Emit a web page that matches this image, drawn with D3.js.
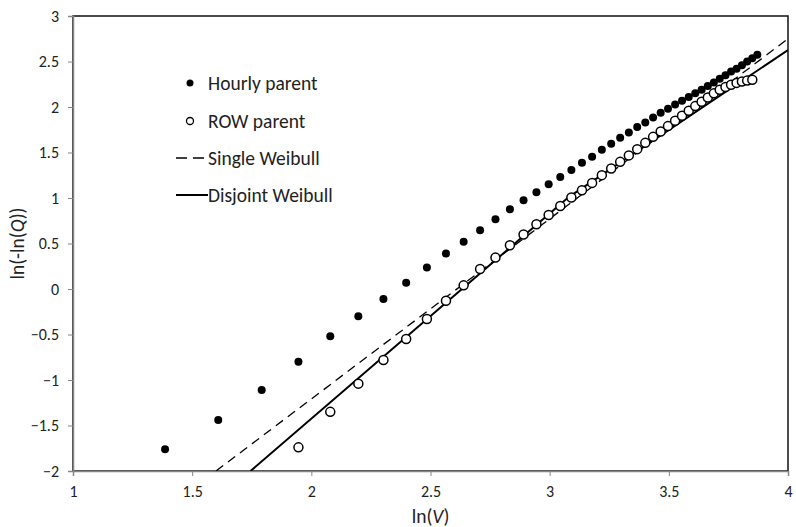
<!DOCTYPE html>
<html>
<head>
<meta charset="utf-8">
<script src="https://cdn.jsdelivr.net/npm/d3@7"></script>
<style>
  body { margin: 0; background: #fff; }
  svg text { font-family: Carlito, Calibri, Lato, sans-serif; fill: #222; }
</style>
</head>
<body>
<div id="chart"></div>
<script>
// wind speed classes V (x is plotted as ln(V))
var hourlyV = [4,5,6,7,8,9,10,11,12,13,14,15,16,17,18,19,20,21,22,23,24,25,26,27,28,29,30,31,32,33,34,35,36,37,38,39,40,41,42,43,44,45,46,47,48];
var hourlyY = [-1.76,-1.44,-1.11,-0.80,-0.52,-0.30,-0.11,0.07,0.235,0.39,0.52,0.646,0.767,0.877,0.976,1.064,1.152,1.232,1.309,1.386,1.452,1.529,1.595,1.661,1.72,1.779,1.83,1.885,1.936,1.98,2.028,2.068,2.11,2.15,2.19,2.23,2.27,2.31,2.35,2.39,2.42,2.46,2.50,2.535,2.575];

var rowV = [7,8,9,10,11,12,13,14,15,16,17,18,19,20,21,22,23,24,25,26,27,28,29,30,31,32,33,34,35,36,37,38,39,40,41,42,43,44,45,46,47];
var rowY = [-1.74,-1.35,-1.04,-0.78,-0.55,-0.33,-0.13,0.04,0.22,0.345,0.48,0.598,0.712,0.814,0.913,1.006,1.086,1.166,1.251,1.325,1.397,1.468,1.537,1.606,1.672,1.731,1.79,1.848,1.903,1.958,2.01,2.057,2.105,2.15,2.19,2.22,2.245,2.265,2.28,2.29,2.30];

// fitted lines, [ln(V), ln(-ln(Q))]
var singleWeibull = [[1.6,-2],[4,2.75]];
var disjointWeibull = [[1.745,-2],[3.08,1.01],[4,2.626]];

var xTicks = [1,1.5,2,2.5,3,3.5,4];
var yTicks = [-2,-1.5,-1,-0.5,0,0.5,1,1.5,2,2.5,3];

var W = 796, H = 527;
var mLeft = 73, mRight = 788, mTop = 16, mBottom = 471;

var svg = d3.select("#chart").append("svg")
  .attr("width", W)
  .attr("height", H);

var x = d3.scaleLinear().domain([1, 4]).range([mLeft, mRight]);
var y = d3.scaleLinear().domain([-2, 3]).range([mBottom, mTop]);

// plot frame (top/right dark)
svg.append("rect")
  .attr("x", mLeft).attr("y", mTop)
  .attr("width", mRight - mLeft).attr("height", mBottom - mTop)
  .attr("fill", "none").attr("stroke", "#111").attr("stroke-width", 1.5);

svg.append("clipPath").attr("id", "clip")
  .append("rect").attr("x", mLeft).attr("y", mTop)
  .attr("width", mRight - mLeft).attr("height", mBottom - mTop);

// axes
var xAxis = svg.append("g")
  .attr("transform", "translate(0," + mBottom + ")")
  .call(d3.axisBottom(x).tickValues(xTicks).tickSize(5).tickPadding(8).tickFormat(d3.format("")));
var yAxis = svg.append("g")
  .attr("transform", "translate(" + mLeft + ",0)")
  .call(d3.axisLeft(y).tickValues(yTicks).tickSize(5).tickPadding(9).tickFormat(d3.format("")));

[xAxis, yAxis].forEach(function(g) {
  g.attr("font-family", null).attr("font-size", "16px");
  g.select(".domain").attr("stroke", "#868686").attr("stroke-width", 1.5);
  g.selectAll(".tick line").attr("stroke", "#868686");
  g.selectAll("text").attr("font-size", "16px").style("font-size", "16px").attr("fill", "#222");
});
xAxis.selectAll("text").attr("dy", "0.8em");

// lines
var line = d3.line().x(function(d) { return x(d[0]); }).y(function(d) { return y(d[1]); });
var plot = svg.append("g").attr("clip-path", "url(#clip)");

plot.append("path").datum(singleWeibull)
  .attr("d", line).attr("fill", "none")
  .attr("stroke", "#000").attr("stroke-width", 1.3)
  .attr("stroke-dasharray", "9,6");

plot.append("path").datum(disjointWeibull)
  .attr("d", line).attr("fill", "none")
  .attr("stroke", "#000").attr("stroke-width", 2);

// points
plot.selectAll(".hourly").data(hourlyV).enter().append("circle")
  .attr("class", "hourly")
  .attr("cx", function(d) { return x(Math.log(d)); })
  .attr("cy", function(d, i) { return y(hourlyY[i]); })
  .attr("r", 4)
  .attr("fill", "#000");

plot.selectAll(".row").data(rowV).enter().append("circle")
  .attr("class", "row")
  .attr("cx", function(d) { return x(Math.log(d)); })
  .attr("cy", function(d, i) { return y(rowY[i]); })
  .attr("r", 4.5)
  .attr("fill", "#fff")
  .attr("stroke", "#000")
  .attr("stroke-width", 1.5);

// legend
var legend = svg.append("g");
legend.append("circle").attr("cx", 190).attr("cy", 83).attr("r", 3.5).attr("fill", "#000");
legend.append("circle").attr("cx", 190).attr("cy", 121).attr("r", 3.5)
  .attr("fill", "#fff").attr("stroke", "#000").attr("stroke-width", 1.3);
legend.append("line").attr("x1", 176).attr("x2", 208).attr("y1", 158).attr("y2", 158)
  .attr("stroke", "#000").attr("stroke-width", 1.3).attr("stroke-dasharray", "11,6");
legend.append("line").attr("x1", 176).attr("x2", 208).attr("y1", 195).attr("y2", 195)
  .attr("stroke", "#000").attr("stroke-width", 2);

var labels = ["Hourly parent", "ROW parent", "Single Weibull", "Disjoint Weibull"];
var labelY = [83, 121, 158, 195];
labels.forEach(function(t, i) {
  legend.append("text")
    .attr("x", 208)
    .attr("y", labelY[i])
    .attr("dy", "0.35em")
    .style("font-size", "19.5px")
    .text(t);
});

// axis titles
var xt = svg.append("text")
  .attr("x", (mLeft + mRight) / 2).attr("y", 523)
  .attr("text-anchor", "middle")
  .style("font-size", "19.5px");
xt.append("tspan").text("ln(");
xt.append("tspan").style("font-style", "italic").text("V");
xt.append("tspan").text(")");

var yt = svg.append("text")
  .attr("transform", "translate(24," + ((mTop + mBottom) / 2) + ") rotate(-90)")
  .attr("text-anchor", "middle")
  .style("font-size", "19.5px");
yt.append("tspan").text("ln(-ln(");
yt.append("tspan").style("font-style", "italic").text("Q");
yt.append("tspan").text("))");
</script>
</body>
</html>
